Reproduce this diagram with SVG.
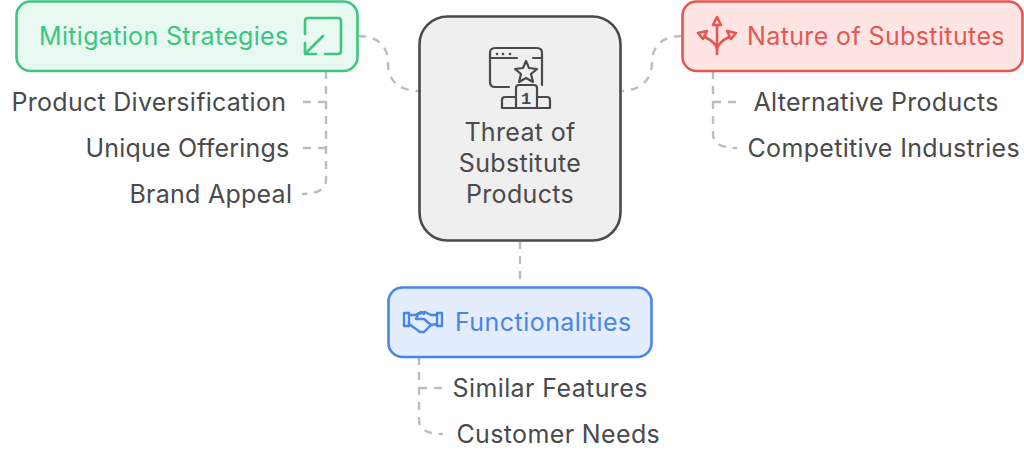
<svg xmlns="http://www.w3.org/2000/svg" width="1024" height="451" viewBox="0 0 1024 451">
<style>
text{font-family:Inter,"Liberation Sans",sans-serif;font-size:25px;fill:#4a4a4a;letter-spacing:.33px}
.box{stroke-width:2.6}
.c{fill:none;stroke:#bdbdbd;stroke-width:2.4;stroke-dasharray:8 7}
.i{fill:none;stroke-width:2.6;stroke-linecap:round;stroke-linejoin:round}
</style>
<rect width="1024" height="451" fill="#fff"/>
<g id="connectors">
<path class="c" d="M358 36C378 36 388 46 388 63C388 80 398 91 420 91"/>
<path class="c" d="M682 36C662 36 652 46 652 63C652 80 640 91 620 91"/>
<path class="c" d="M520 241V287"/>
<path class="c" d="M326 71V180Q326 194 302 194"/>
<path class="c" d="M326 102H303"/>
<path class="c" d="M326 148H303"/>
<path class="c" d="M713 71V134Q713 148 737 148"/>
<path class="c" d="M713 102H737"/>
<path class="c" d="M419 357V420Q419 434 443 434"/>
<path class="c" d="M419 388H443"/>
</g>
<g id="center">
<rect class="box" x="419.500" y="16.500" width="201" height="224" rx="28" fill="#efefef" stroke="#4a4a4a"/>
<g class="i" stroke="#4a4a4a" style="stroke-width:2.200">
<path d="M509 87H495Q490 87 490 82V53Q490 48 495 48H537Q542 48 542 53V85M490 58H517M533 58H542"/>
<path d="M526 61L529 68L537 69L531 74L533 82L526 78L519 82L521 74L515 69L523 68Z"/>
<path d="M516 108V88Q516 85 519 85H534Q537 85 537 88V108M516 97H505Q502 97 502 100V108H550V100Q550 97 547 97H537"/>
</g>
<circle cx="497" cy="54" r="1.300" fill="#4a4a4a"/><circle cx="503" cy="54" r="1.300" fill="#4a4a4a"/><circle cx="510" cy="54" r="1.300" fill="#4a4a4a"/>
<text x="526" y="104" text-anchor="middle" style="font-family:'Liberation Mono',monospace;font-size:17px;font-weight:700;letter-spacing:0">1</text>
<text x="520" y="141" text-anchor="middle">Threat of</text>
<text x="520" y="172" text-anchor="middle">Substitute</text>
<text x="520" y="203" text-anchor="middle">Products</text>
</g>
<g id="mitigation">
<rect class="box" x="16.500" y="1.500" width="341" height="69.500" rx="14" fill="#e8f9f1" stroke="#3cc583"/>
<g class="i" stroke="#3cc583">
<path d="M305 34V21Q305 18 308 18H338Q341 18 341 21V51Q341 54 338 54H325"/>
<path d="M323 36L305 54M305 43V54H316"/>
</g>
<text x="39" y="45" style="fill:#3cc583">Mitigation Strategies</text>
</g>
<g id="nature">
<rect class="box" x="682.500" y="1.500" width="340" height="69.500" rx="14" fill="#fee4e2" stroke="#e55753"/>
<g class="i" stroke="#e55753">
<path d="M717 54V25M717 50Q717 43 705 37M717 50Q717 43 729 37"/>
<path d="M717 17L721 25H713ZM698 33L707 31L703 39ZM736 33L727 31L731 39Z"/>
</g>
<text x="747" y="45" style="fill:#e55753;letter-spacing:.38px">Nature of Substitutes</text>
</g>
<g id="functionalities">
<rect class="box" x="388.500" y="287.500" width="263" height="69.500" rx="14" fill="#e3edfd" stroke="#4a85e8"/>
<g class="i" stroke="#4a85e8" style="stroke-width:2.400">
<path d="M404 313H409V326H404ZM442 313H437V326H442Z"/>
<path d="M409 315L415 315L421 312L424 314M437 315L431 315L425 312L418 314L416 319L424 319L431 325L427 329L424 332L420 332L409 324"/>
<path d="M431 325L437 324"/>
</g>
<text x="455" y="331" style="fill:#4a85e8;letter-spacing:.45px">Functionalities</text>
</g>
<g id="leaf-product-diversification"><text x="11.500" y="111" style="letter-spacing:.28px">Product Diversification</text></g>
<g id="leaf-unique-offerings"><text x="85.500" y="157" style="letter-spacing:.2px">Unique Offerings</text></g>
<g id="leaf-brand-appeal"><text x="129.500" y="203" style="letter-spacing:.25px">Brand Appeal</text></g>
<g id="leaf-alternative-products"><text x="753.500" y="111" style="letter-spacing:.28px">Alternative Products</text></g>
<g id="leaf-competitive-industries"><text x="747.500" y="157">Competitive Industries</text></g>
<g id="leaf-similar-features"><text x="452.500" y="397" style="letter-spacing:.4px">Similar Features</text></g>
<g id="leaf-customer-needs"><text x="456.500" y="443" style="letter-spacing:.36px">Customer Needs</text></g>
</svg>
